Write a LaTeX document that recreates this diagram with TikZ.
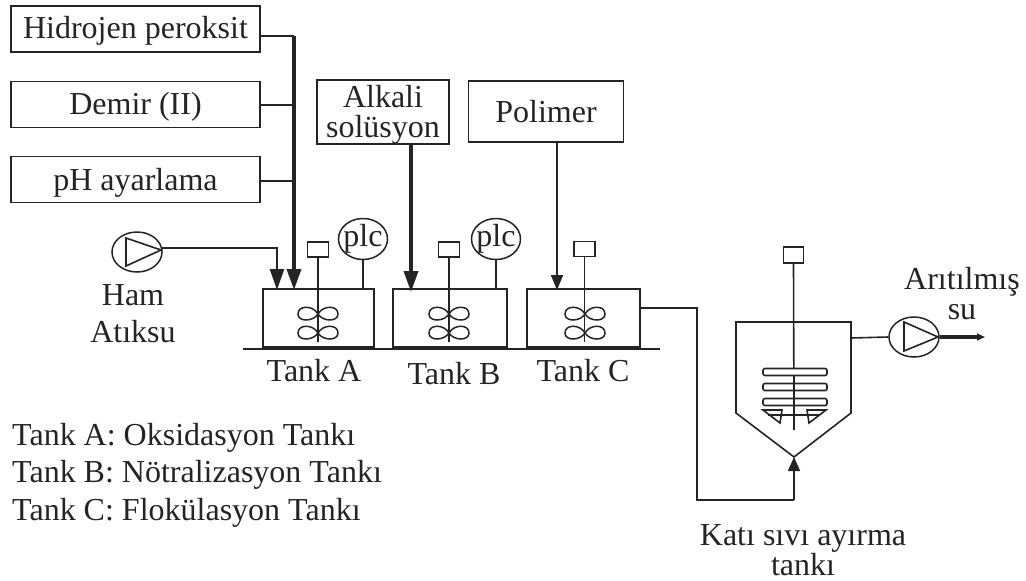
\documentclass[tikz,border=0pt]{standalone}
\usepackage{fontspec}
\setmainfont{Liberation Serif}
\usetikzlibrary{arrows.meta,shapes.geometric,calc}
\definecolor{ink}{gray}{0.14}
\tikzset{
  lbl/.style={inner sep=0pt,text=ink,font=\fontsize{32}{34}\selectfont,align=center},
  legend/.style={inner sep=0pt,text=ink,anchor=west,font=\fontsize{32}{34}\selectfont},
  boxn/.style={draw=ink,line width=1.7pt,inner sep=0pt,text=ink,font=\fontsize{32}{34}\selectfont,align=center},
  pipe/.style={draw=ink,line width=1.6pt},
  heavypipe/.style={draw=ink,line width=3.6pt},
  arr/.style={-{Triangle[length=21pt,width=14pt]}},
  motor/.style={draw=ink,line width=1.5pt,minimum width=21pt,minimum height=15pt,inner sep=0pt},
  plc/.style={draw=ink,ellipse,line width=1.5pt,minimum width=49pt,minimum height=41pt,inner sep=-12pt,text=ink,font=\fontsize{32}{36}\selectfont},
  pump/.style={draw=ink,ellipse,line width=1.5pt,minimum width=50pt,minimum height=40pt,inner sep=0pt},
  tank/.style={draw=ink,line width=1.8pt},
}
\newcommand{\impeller}[1]{%
  \foreach \yy in {314,333}{
    \draw[pipe,line width=1.5pt] (#1,\yy) .. controls (#1-5,\yy-9) and (#1-20,\yy-9) .. (#1-20,\yy) .. controls (#1-20,\yy+8) and (#1-5,\yy+8) .. (#1,\yy);
    \draw[pipe,line width=1.5pt] (#1,\yy) .. controls (#1+5,\yy-9) and (#1+20,\yy-9) .. (#1+20,\yy) .. controls (#1+20,\yy+8) and (#1+5,\yy+8) .. (#1,\yy);
  }}
\begin{document}
\begin{tikzpicture}[x=1pt,y=-1pt]
\useasboundingbox (0,0) rectangle (1026,581);
% chemical boxes
\node[boxn,minimum width=249pt,minimum height=46pt,text height=23pt,text depth=4pt] (h2o2) at (135.5,29) {Hidrojen peroksit};
\node[boxn,minimum width=249pt,minimum height=46pt,text height=23pt,text depth=4pt] (fe) at (135.5,104.5) {Demir (II)};
\node[boxn,minimum width=249pt,minimum height=46pt,text height=25pt,text depth=3pt] (ph) at (135.5,179.5) {pH ayarlama};
\node[boxn,minimum width=132pt,minimum height=62pt,line width=1.5pt,font=\fontsize{32}{30}\selectfont] (alk) at (383,112) {\rule{0pt}{27pt}Alkali\\solüsyon};
\node[boxn,minimum width=155pt,minimum height=61pt] (pol) at (546,111.5) {Polimer};
% tanks
\draw[tank] (263,289) rectangle (374,347);
\draw[tank] (393,289) rectangle (507,347);
\draw[tank] (527,289) rectangle (640,347);
\coordinate (ta1) at (277,290);
\coordinate (ta2) at (294,290);
\coordinate (tb) at (411,292);
\coordinate (tc) at (557,290);
\coordinate (tcout) at (640,308);
\draw[pipe,line width=1.8pt] (243,349) -- (660,349);
% motors
\node[motor] (ma) at (318,249.5) {};
\node[motor] (mb) at (449,249.5) {};
\node[motor] (mc) at (584.5,249) {};
\coordinate (sa) at (318,342);
\coordinate (sb) at (449,342);
\coordinate (sc) at (584.5,342);
\draw[pipe] (ma.south) -- (sa);
\draw[pipe] (mb.south) -- (sb);
\draw[pipe] (mc.south) -- (sc);
\impeller{318}
\impeller{449}
\impeller{585}
% plc
\node[plc] (plca) at (363,239) {plc};
\node[plc] (plcb) at (496,239) {plc};
\coordinate (pa) at (363,289);
\coordinate (pb) at (496,289);
\draw[pipe,line width=2.2pt] (plca.south) -- (pa);
\draw[pipe] (plcb.south) -- (pb);
% feeds
\coordinate (j1) at (294,36);
\coordinate (j2) at (294,105);
\coordinate (j3) at (294,181);
\draw[pipe] (h2o2.east |- j1) -- (j1);
\draw[pipe] (fe.east |- j2) -- (j2);
\draw[pipe] (ph.east |- j3) -- (j3);
\draw[heavypipe,arr] (j1) -- (ta2);
\draw[heavypipe,arr] (alk.south -| tb) -- (tb);
\draw[pipe,line width=2pt,-{Triangle[length=15pt,width=12pt]}] (pol.south -| tc) -- (tc);
% raw pump
\node[pump] (p1) at (137,252) {};
\draw[pipe] (126,238) -- (126,266) -- (161,250) -- cycle;
\coordinate (p1o) at (162,248);
\draw[pipe,line width=2.4pt,arr] (p1o) -| (ta1);
% settler
\coordinate (sl) at (736,322);
\coordinate (sr) at (851,322);
\coordinate (sapex) at (794,457);
\draw[pipe] (sl) -- (sr) -- (851,413) -- (sapex) -- (736,413) -- cycle;
\node[motor,minimum width=20pt,minimum height=16pt] (ms) at (793.5,255) {};
\coordinate (sst) at (794,430);
\draw[pipe] (ms.south) -- (sst);
\foreach \yy in {372,387,402}{
  \draw[pipe,fill=white,rounded corners=2pt] (763,\yy-3.5) rectangle (827,\yy+3.5);
}
\draw[pipe] (794,375) -- (794,430);
\draw[pipe] (768,415) -- (820,415);
\draw[pipe] (763,410) -- (782,410) -- (780,423) -- cycle;
\draw[pipe] (826,410) -- (807,410) -- (809,423) -- cycle;
% pipe C -> settler
\coordinate (c1) at (697,308);
\coordinate (c2) at (697,500);
\coordinate (c3) at (794,500);
\draw[pipe] (tcout) -- (c1) -- (c2) -- (c3);
\draw[pipe,-{Triangle[length=14pt,width=12pt]}] (c3) -- (sapex);
% out pump
\node[pump] (p2) at (914,337) {};
\draw[pipe] (904,322) -- (904,351) -- (938,337) -- cycle;
\coordinate (so) at (851,338);
\coordinate (out) at (985,337);
\draw[pipe] (so) -- (p2.west);
\draw[heavypipe,-{Triangle[length=8pt,width=7pt]}] (p2.east) -- (out);
% labels
\node[lbl] (ham) at (133,295) {Ham};
\node[lbl] (atk) at (133,332) {Atıksu};
\node[lbl] (la) at (314,371) {Tank A};
\node[lbl] (lb) at (454,374) {Tank B};
\node[lbl] (lc) at (583,371) {Tank C};
\node[legend] (l1) at (12,438) {Tank A: Oksidasyon Tankı};
\node[legend] (l2) at (12,475) {Tank B: Nötralizasyon Tankı};
\node[legend] (l3) at (12,513) {Tank C: Flokülasyon Tankı};
\node[lbl] (ar) at (962,282) {Arıtılmış};
\node[lbl] (su) at (962,312) {su};
\node[lbl] (k1) at (803,538) {Katı sıvı ayırma};
\node[lbl] (k2) at (803,565) {tankı};
\end{tikzpicture}
\end{document}
